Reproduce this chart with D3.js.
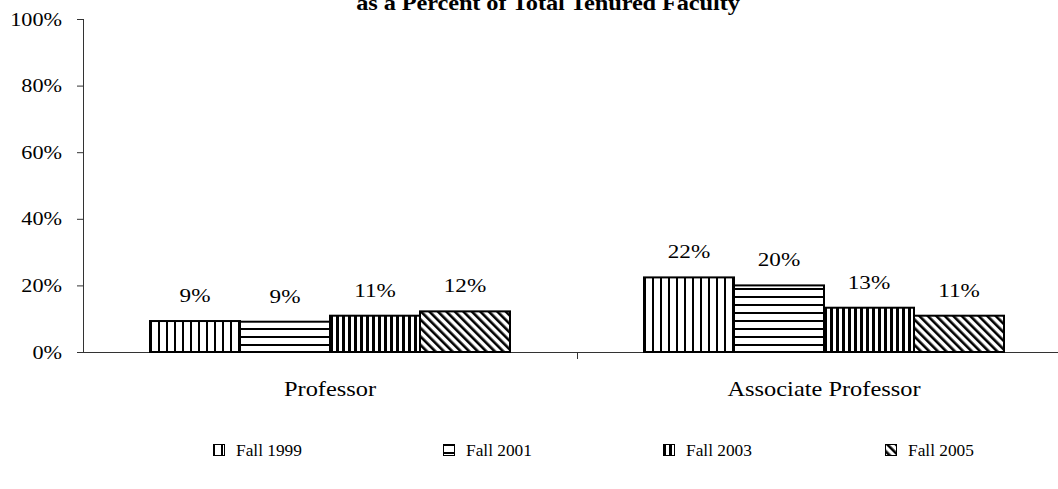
<!DOCTYPE html>
<html>
<head>
<meta charset="utf-8">
<script src="https://cdnjs.cloudflare.com/ajax/libs/d3/7.8.5/d3.min.js"></script>
<style>
  body { margin: 0; background: #fff; }
  text { font-family: "Liberation Serif", "Times New Roman", serif; fill: #000; }
</style>
</head>
<body>
<div id="chart"></div>
<script>
var categories = ["Professor", "Associate Professor"];
var seriesNames = ["Fall 1999", "Fall 2001", "Fall 2003", "Fall 2005"];
var professorValues = [9.3, 9.1, 10.9, 12.2];
var associateValues = [22.4, 20.0, 13.3, 10.9];
var yTicks = [0, 20, 40, 60, 80, 100];
var titleText = "as a Percent of Total Tenured Faculty";

var valuesByCategory = [professorValues, associateValues];

var width = 1058,
    height = 489,
    sx = 1.22; // the original picture is stretched sideways

var svg = d3.select("#chart").append("svg")
    .attr("width", width)
    .attr("height", height);

// hatch patterns, one per series
var defs = svg.append("defs");
function hatch(id, size, angle, horizontal, lineW) {
    var p = defs.append("pattern")
        .attr("id", id)
        .attr("patternUnits", "userSpaceOnUse")
        .attr("width", size)
        .attr("height", size);
    if (angle) p.attr("patternTransform", "rotate(" + angle + ")");
    p.append("rect").attr("width", size).attr("height", size).attr("fill", "#fff");
    if (horizontal) {
        p.append("rect").attr("width", size).attr("height", lineW).attr("fill", "#000");
    } else {
        p.append("rect").attr("width", lineW).attr("height", size).attr("fill", "#000");
    }
}
hatch("p0", 8, 0, false, 2);
hatch("p1", 8, 0, true, 2);
hatch("p2", 6, 0, false, 3);
hatch("p3", 6, -45, false, 2.6);

var y = d3.scaleLinear().domain([0, 100]).range([352, 19]);
var x0 = d3.scaleBand().domain(categories).range([83, 1071]);
var groupW = 360;
var x1 = d3.scaleBand().domain(seriesNames).range([0, groupW]);

function stretched(sel, x, yy, k) {
    return sel.attr("transform", "translate(" + x + "," + yy + ") scale(" + (k || sx) + ",1)");
}

// title (first line is off the top of the picture)
stretched(svg.append("text"), 548, 10)
    .attr("text-anchor", "middle")
    .attr("font-weight", "bold")
    .style("font-size", "20px")
    .attr("letter-spacing", "-0.1")
    .text(titleText);

// y axis
var yAxis = svg.append("g")
    .attr("transform", "translate(83,0)")
    .call(d3.axisLeft(y).tickValues(yTicks).tickSize(6).tickSizeOuter(0)
        .tickFormat(function (d) { return d + "%"; }));
yAxis.attr("font-family", null).attr("font-size", null);
yAxis.select(".domain").attr("stroke", "#333").attr("d", "M0.5," + y(100) + "V" + y(0));
yAxis.selectAll(".tick line").attr("stroke", "#333");
yAxis.selectAll(".tick text").each(function () {
    var t = d3.select(this);
    t.attr("x", null).attr("dy", null).attr("fill", "#000")
        .style("font-size", "19px")
        .attr("text-anchor", "end");
    stretched(t, -21, 6, 1.17);
});

// x axis line with the tick between categories
svg.append("line")
    .attr("x1", 77).attr("x2", width)
    .attr("y1", y(0) + 0.5).attr("y2", y(0) + 0.5)
    .attr("stroke", "#333");
svg.append("line")
    .attr("x1", x0(categories[1]) + 0.5).attr("x2", x0(categories[1]) + 0.5)
    .attr("y1", y(0)).attr("y2", y(0) + 7)
    .attr("stroke", "#333");

categories.forEach(function (c) {
    stretched(svg.append("text"), x0(c) + x0.bandwidth() / 2, 396)
        .attr("text-anchor", "middle")
        .style("font-size", "20px")
        .text(c);
});

// bars
var groups = svg.selectAll(".grp")
    .data(categories)
    .enter().append("g")
    .attr("class", "grp")
    .attr("transform", function (c) {
        return "translate(" + (x0(c) + (x0.bandwidth() - groupW) / 2) + ",0)";
    });

function rows(c, i) {
    return seriesNames.map(function (s, j) { return { s: s, j: j, v: valuesByCategory[i][j] }; });
}

groups.selectAll("rect")
    .data(rows)
    .enter().append("rect")
    .attr("x", function (d) { return x1(d.s); })
    .attr("y", function (d) { return y(d.v); })
    .attr("width", x1.bandwidth())
    .attr("height", function (d) { return y(0) - y(d.v); })
    .attr("fill", function (d) { return "url(#p" + d.j + ")"; })
    .attr("stroke", "#000")
    .attr("stroke-width", 2);

groups.selectAll("text.lbl")
    .data(rows)
    .enter().append("text")
    .attr("class", "lbl")
    .each(function (d) {
        stretched(d3.select(this), x1(d.s) + x1.bandwidth() / 2, y(d.v) - 19);
    })
    .attr("text-anchor", "middle")
    .style("font-size", "19px")
    .text(function (d) { return Math.round(d.v) + "%"; });

// legend
var legendX = [213, 443, 663, 885];
var legend = svg.selectAll(".leg")
    .data(seriesNames)
    .enter().append("g")
    .attr("class", "leg")
    .attr("transform", function (d, i) { return "translate(" + legendX[i] + ",444)"; });
legend.append("rect")
    .attr("x", 0.5).attr("y", 0.5)
    .attr("width", 11).attr("height", 11)
    .attr("fill", function (d, i) { return "url(#p" + i + ")"; })
    .attr("stroke", "#000");
legend.append("text")
    .each(function () { stretched(d3.select(this), 23, 12, 1.02); })
    .style("font-size", "17px")
    .text(function (d) { return d; });
</script>
</body>
</html>
